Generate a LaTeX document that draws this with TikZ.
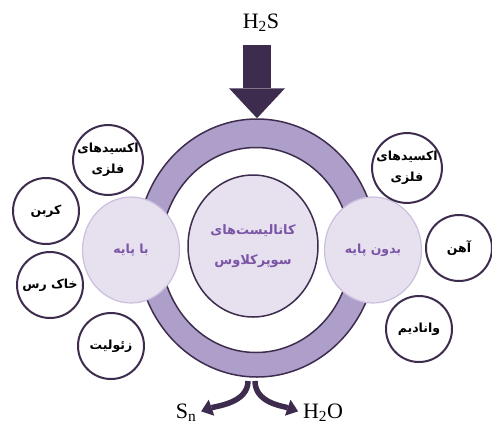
\documentclass[tikz,border=0pt]{standalone}
\usepackage{fontspec}
\setmainfont{Liberation Serif}
\newfontfamily\fa[Script=Arabic]{DejaVu Sans}
\TeXXeTstate=1
\usetikzlibrary{shapes.geometric,arrows.meta}
\definecolor{inkpurple}{HTML}{3D2C4E}
\definecolor{ringpurple}{HTML}{AE9FCA}
\definecolor{palepurple}{HTML}{E6E0EF}
\definecolor{rimpurple}{HTML}{CBBFDC}
\definecolor{textpurple}{HTML}{7B55A6}
\newcommand{\fatext}[1]{\beginR #1\endR}

\begin{document}
\begin{tikzpicture}[x=1pt, y=-1pt,
  every node/.style={font=\fa\bfseries\fontsize{12.5}{21}\selectfont, align=center},
  item/.style={circle, draw=inkpurple, line width=2pt, fill=white, minimum size=66pt, inner sep=0pt},
  hub/.style={ellipse, fill=palepurple, draw=rimpurple, line width=1.2pt, minimum width=97pt, minimum height=106pt, inner sep=0pt, text=textpurple},
  chem/.style={font=\fontsize{22}{24}\selectfont, inner sep=0pt},
  bigarrow/.style={draw=inkpurple, line width=28pt, -{Triangle[length=30pt,width=56pt,line width=0pt]}},
  outarrow/.style={draw=inkpurple, line width=5.5pt, -{Triangle[length=11pt,width=17pt,line width=0pt]}, shorten >=5pt}]
\useasboundingbox (0,0) rectangle (492,426);

% ring and core
\node[ellipse, fill=ringpurple, draw=inkpurple, line width=1.5pt, minimum width=240pt, minimum height=258pt, inner sep=0pt] (ring) at (257,248) {};
\node[ellipse, fill=white, draw=inkpurple, line width=1.5pt, minimum width=190pt, minimum height=205pt, inner sep=0pt] (hole) at (256,250) {};
\node[ellipse, fill=palepurple, draw=inkpurple, line width=1.5pt, minimum width=130pt, minimum height=142pt, inner sep=0pt, text=textpurple, font=\fa\bfseries\fontsize{13}{30}\selectfont] (core) at (253,246) {\fatext{کاتالیست‌های}\\\fatext{سوپرکلاوس}};

% supported / unsupported
\node[hub] (supp) at (131,250) {\fatext{با پایه}};
\node[hub] (unsupp) at (373,250) {\fatext{بدون پایه}};

% left group
\node[item] (lox) at (108,160) {\fatext{اکسیدهای}\\\fatext{فلزی}};
\node[item] (carbon) at (46,211) {\fatext{کربن}};
\node[item] (clay) at (50,285) {\fatext{خاک رس}};
\node[item] (zeolite) at (111,346) {\fatext{زئولیت}};

% right group
\node[item] (rox) at (407,168) {\fatext{اکسیدهای}\\\fatext{فلزی}};
\node[item] (iron) at (459,248) {\fatext{آهن}};
\node[item] (vanadium) at (419,329) {\fatext{وانادیم}};

% feed and products
\node[chem] (h2s) at (261,23) {H\textsubscript{2}S};
\coordinate (feed) at (257,45);
\draw[bigarrow] (feed) -- (ring.north);

\node[chem] (sn) at (186,413) {S\textsubscript{n}};
\node[chem] (h2o) at (323,413) {H\textsubscript{2}O};
\coordinate (lout) at (248,381);
\coordinate (rout) at (255,381);
\draw[outarrow] (lout) .. controls +(0,22) and +(20,-7) .. (sn.east);
\draw[outarrow] (rout) .. controls +(0,22) and +(-20,-7) .. (h2o.west);
\end{tikzpicture}
\end{document}
